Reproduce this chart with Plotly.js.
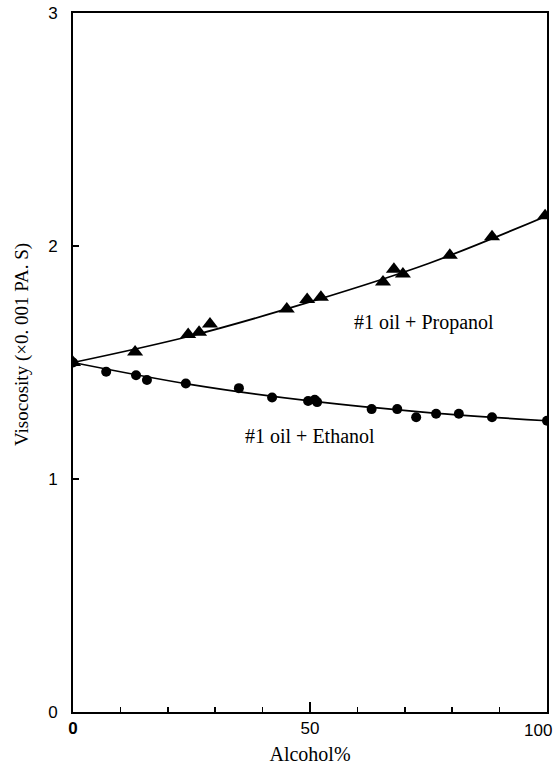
<!DOCTYPE html>
<html>
<head>
<meta charset="utf-8">
<script src="https://cdn.plot.ly/plotly-3.0.1.min.js"></script>
<style>html,body{margin:0;padding:0;background:#fff}</style>
</head>
<body>
<div id="chart" style="width:558px;height:770px"></div>
<script>
// Propanol measurements (triangles)
const propX = [0, 13.1, 24.3, 26.6, 28.9, 45.1, 49.4, 52.3, 65.4, 67.7, 69.6, 79.5, 88.4, 99.6];
const propY = [1.50, 1.545, 1.62, 1.63, 1.665, 1.73, 1.77, 1.78, 1.845, 1.90, 1.88, 1.96, 2.04, 2.13];
// Ethanol measurements (circles)
const ethX = [0, 7, 13.3, 15.6, 23.8, 35, 42, 49.6, 51, 51.5, 63, 68.4, 72.4, 76.6, 81.4, 88.4, 100];
const ethY = [1.50, 1.46, 1.445, 1.425, 1.41, 1.39, 1.35, 1.335, 1.34, 1.33, 1.30, 1.30, 1.265, 1.28, 1.28, 1.265, 1.25];
// Fitted curves
const fitX = [0, 25, 50, 75, 100];
const propFit = [1.50, 1.615, 1.76, 1.925, 2.13];
const ethFit = [1.50, 1.405, 1.335, 1.285, 1.25];
// Axis labels
const xTicks = [0, 50];
const xTickText = ['<b>0</b>', '50'];
const xLastTick = 100;
const xLastText = '100';
const yTicks = [0, 1, 2, 3];
const yTickText = ['0', '1', '2', '3'];
const xTitle = 'Alcohol%';
const yTitle = 'Visocosity (×0. 001 PA. S)';
const propLabel = '#1 oil + Propanol';
const ethLabel = '#1 oil + Ethanol';

const traces = [
  {x: fitX, y: propFit, mode: 'lines', line: {color: '#000', width: 1.7, shape: 'spline'}, hoverinfo: 'skip'},
  {x: fitX, y: ethFit, mode: 'lines', line: {color: '#000', width: 1.7, shape: 'spline'}, hoverinfo: 'skip'},
  {x: propX, y: propY, mode: 'markers', marker: {symbol: 'triangle-up', size: 14, color: '#000'}},
  {x: ethX, y: ethY, mode: 'markers', marker: {symbol: 'circle', size: 10, color: '#000'}}
];

const serif = 'Liberation Serif, Times New Roman, serif';
const sans = 'Liberation Sans, Arial, sans-serif';
const W = 558, H = 770, ML = 73, MR = 11, MT = 13, MB = 58;

const layout = {
  width: W, height: H,
  margin: {l: ML, r: MR, t: MT, b: MB},
  paper_bgcolor: '#fff', plot_bgcolor: '#fff',
  showlegend: false,
  xaxis: {
    range: [0, 100], tickmode: 'array', tickvals: xTicks.concat([xLastTick]), ticktext: xTickText.concat(['']),
    ticks: 'inside', ticklen: 10, tickwidth: 1.5, tickcolor: '#000',
    minor: {dtick: 10, ticks: 'inside', ticklen: 5, tickwidth: 1.5, tickcolor: '#000'},
    showline: true, mirror: true, linecolor: '#000', linewidth: 2,
    showgrid: false, zeroline: false,
    tickfont: {family: sans, size: 17, color: '#000'},
    title: {text: xTitle, font: {family: serif, size: 20, color: '#000'}, standoff: 10}
  },
  yaxis: {
    range: [0, 3], tickmode: 'array', tickvals: yTicks, ticktext: yTickText,
    ticks: 'inside', ticklen: 6, tickwidth: 1.5, tickcolor: '#000',
    showline: true, mirror: true, linecolor: '#000', linewidth: 2,
    showgrid: false, zeroline: false,
    tickfont: {family: sans, size: 17, color: '#000'},
    ticklabelstandoff: 10
  },
  annotations: [
    {x: 74, y: 1.67, xref: 'x', yref: 'y', text: propLabel, showarrow: false,
     font: {family: serif, size: 20, color: '#000'}},
    {x: 50, y: 1.185, xref: 'x', yref: 'y', text: ethLabel, showarrow: false,
     font: {family: serif, size: 20, color: '#000'}},
    {x: (22 - ML) / (W - ML - MR), y: (H - MB - 345) / (H - MB - MT), xref: 'paper', yref: 'paper',
     xanchor: 'center', yanchor: 'middle', text: yTitle, showarrow: false, textangle: -90,
     font: {family: serif, size: 19, color: '#000'}},
    {x: xLastTick, y: 0, xref: 'x', yref: 'y', text: xLastText, showarrow: false,
     xanchor: 'center', yanchor: 'top', xshift: -9, yshift: -7,
     font: {family: sans, size: 17, color: '#000'}}
  ]
};

Plotly.newPlot('chart', traces, layout, {displayModeBar: false, staticPlot: true});
</script>
</body>
</html>
